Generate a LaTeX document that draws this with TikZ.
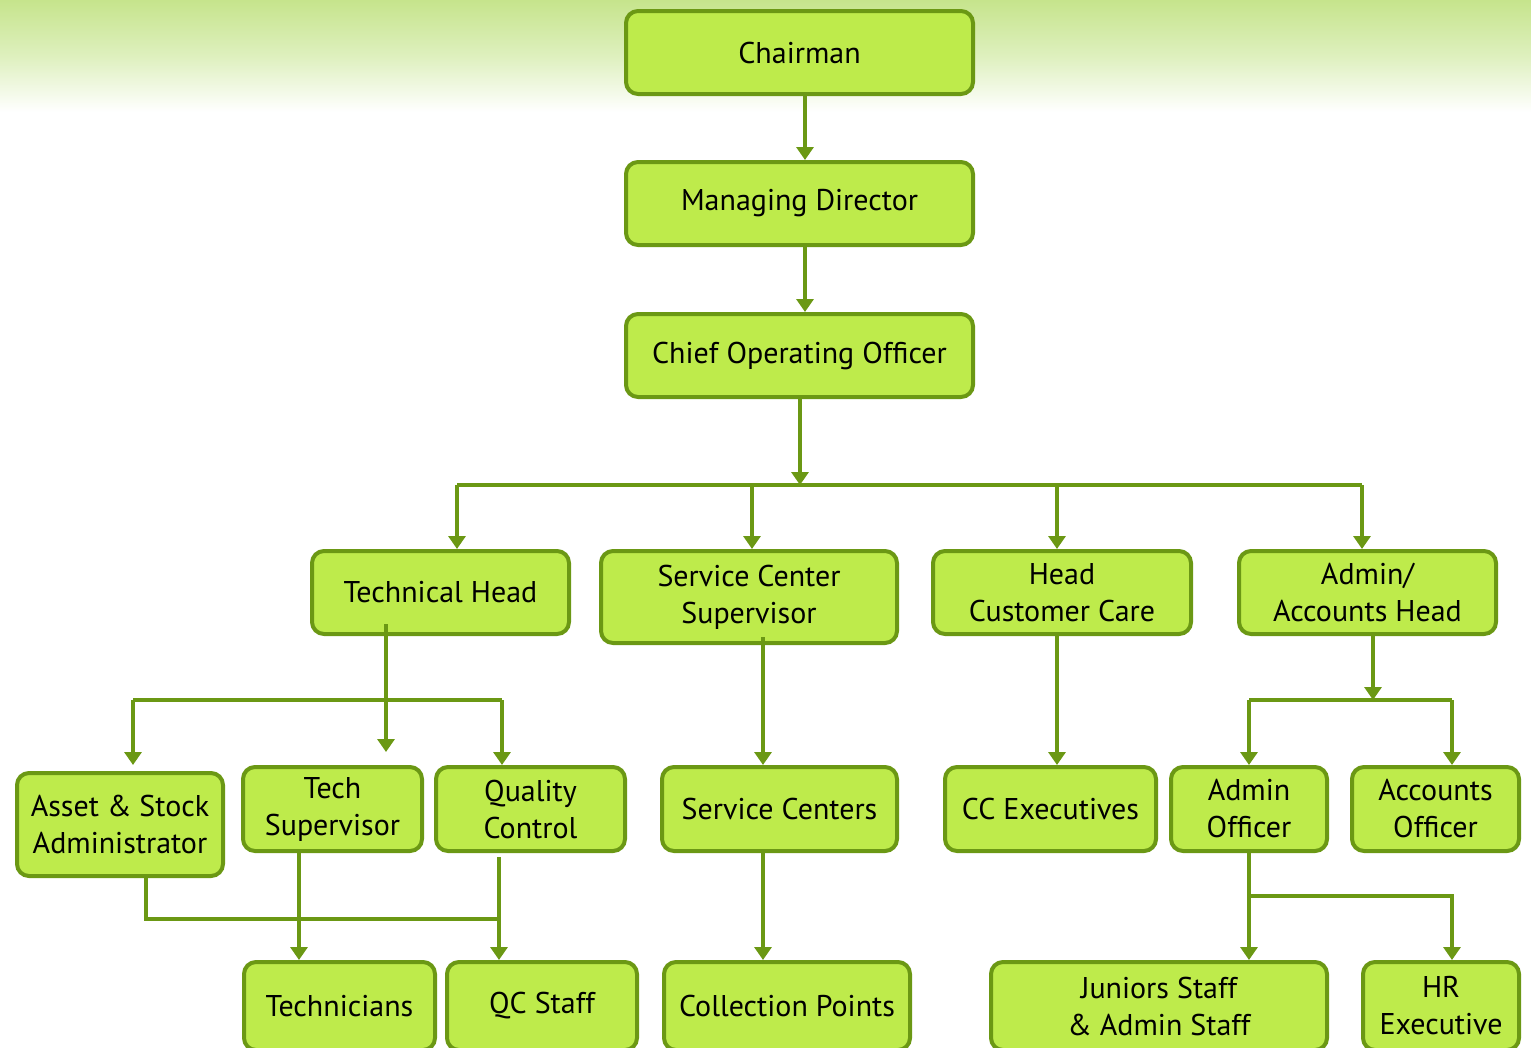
\documentclass[tikz,border=0pt]{standalone}
\usepackage{fontspec}
\setmainfont{PT Sans}
\usetikzlibrary{arrows.meta,calc}
\definecolor{boxfill}{RGB}{190,235,75}
\definecolor{boxline}{RGB}{107,152,20}
\definecolor{bandtop}{RGB}{198,228,140}
\begin{document}
\begin{tikzpicture}[x=1pt,y=-1pt,
  box/.style={draw=boxline, fill=boxfill, line width=4pt, rounded corners=12pt,
    align=center, inner sep=0pt, font=\fontsize{30}{37}\selectfont},
  conn/.style={draw=boxline, line width=4pt},
  arr/.style={conn, -{Triangle[length=13pt,width=17pt]}}]
\useasboundingbox (0,0) rectangle (1531,1047);
\clip (0,0) rectangle (1531,1047);
\shade[top color=bandtop, bottom color=white, middle color={rgb,255:red,222;green,240;blue,190}] (0,0) rectangle (1531,112);
% level 1-3
\node[box, minimum width=347pt, minimum height=83pt] (chair) at (799.5,52.5) {Chairman};
\node[box, minimum width=347pt, minimum height=83pt] (md) at (799.5,203.5) {Managing Director};
\node[box, minimum width=347pt, minimum height=83pt] (coo) at (799.5,355.5) {Chief Operating Officer};
% level 4
\node[box, minimum width=257pt, minimum height=83pt] (th) at (440.5,592.5) {Technical Head};
\node[box, minimum width=296pt, minimum height=92pt] (scs) at (749,597) {Service Center\\Supervisor};
\node[box, minimum width=258pt, minimum height=83pt] (hcc) at (1062,592.5) {Head\\Customer Care};
\node[box, minimum width=257pt, minimum height=83pt] (aah) at (1367.5,592.5) {Admin/\\Accounts Head};
% level 5
\node[box, minimum width=206pt, minimum height=103pt] (asa) at (120,824.5) {Asset \& Stock\\Administrator};
\node[box, minimum width=179pt, minimum height=84pt] (ts) at (332.5,809) {Tech\\Supervisor};
\node[box, minimum width=189pt, minimum height=84pt] (qc) at (530.5,809) {Quality\\Control};
\node[box, minimum width=235pt, minimum height=84pt] (sc) at (779.5,809) {Service Centers};
\node[box, minimum width=211pt, minimum height=84pt] (cce) at (1050.5,809) {CC Executives};
\node[box, minimum width=156pt, minimum height=84pt] (ao) at (1249,809) {Admin\\Officer};
\node[box, minimum width=167pt, minimum height=84pt] (aco) at (1435.5,809) {Accounts\\Officer};
% level 6
\node[box, minimum width=191pt, minimum height=88pt] (tec) at (339.5,1006) {Technicians};
\node[box, minimum width=190pt, minimum height=88pt] (qcs) at (542,1006) {QC Staff};
\node[box, minimum width=246pt, minimum height=88pt] (cp) at (787,1006) {Collection Points};
\node[box, minimum width=336pt, minimum height=88pt] (js) at (1159,1006) {Juniors Staff\\\& Admin Staff};
\node[box, minimum width=156pt, minimum height=88pt] (hr) at (1441,1006) {HR\\Executive};
% connectors top
\coordinate (x805) at (805,0);
\draw[arr] (chair.south -| x805) -- (md.north -| x805);
\draw[arr] (md.south -| x805) -- (coo.north -| x805);
\coordinate (bus) at (800,485);
\draw[arr] (coo.south -| bus) -- (bus);
\coordinate (b1) at (457,485);
\coordinate (b2) at (752,485);
\coordinate (b3) at (1057,485);
\coordinate (b4) at (1362,485);
\draw[conn] (b1) -- (b4);
\draw[arr] (b1) -- (th.north -| b1);
\draw[arr] (b2) -- (scs.north -| b2);
\draw[arr] (b3) -- (hcc.north -| b3);
\draw[arr] (b4) -- (aah.north -| b4);
% technical branch
\coordinate (t0) at (386,624);
\coordinate (t1) at (386,752);
\draw[arr] (t0) -- (t1);
\coordinate (t2) at (133,700);
\coordinate (t3) at (502,700);
\coordinate (t2e) at (133,765);
\coordinate (t3e) at (502,765);
\draw[conn] (t2) -- (t3);
\draw[arr] (t2) -- (t2e);
\draw[arr] (t3) -- (t3e);
% service center branch
\coordinate (s0) at (763,637);
\draw[arr] (s0) -- (sc.north -| s0);
\draw[arr] (sc.south -| s0) -- (cp.north -| s0);
% customer care
\coordinate (h0) at (1057,0);
\draw[arr] (hcc.south -| h0) -- (cce.north -| h0);
% admin accounts
\coordinate (a0) at (1373,700);
\draw[arr] (aah.south -| a0) -- (a0);
\coordinate (a1) at (1249,700);
\coordinate (a2) at (1452,700);
\draw[conn] (a1) -- (a2);
\draw[arr] (a1) -- (ao.north -| a1);
\draw[arr] (a2) -- (aco.north -| a2);
% level 6 connectors
\coordinate (p0) at (299,0);
\draw[arr] (ts.south -| p0) -- (tec.north -| p0);
\coordinate (q0) at (499,857);
\draw[arr] (q0) -- (qcs.north -| q0);
\coordinate (r0) at (146,919);
\draw[conn] (asa.south -| r0) -- (r0) -- (r0 -| q0);
\coordinate (j0) at (1249,896);
\coordinate (j1) at (1452,896);
\draw[arr] (ao.south -| j0) -- (js.north -| j0);
\draw[arr] (j0) -- (j1) -- (hr.north -| j1);
\end{tikzpicture}
\end{document}
